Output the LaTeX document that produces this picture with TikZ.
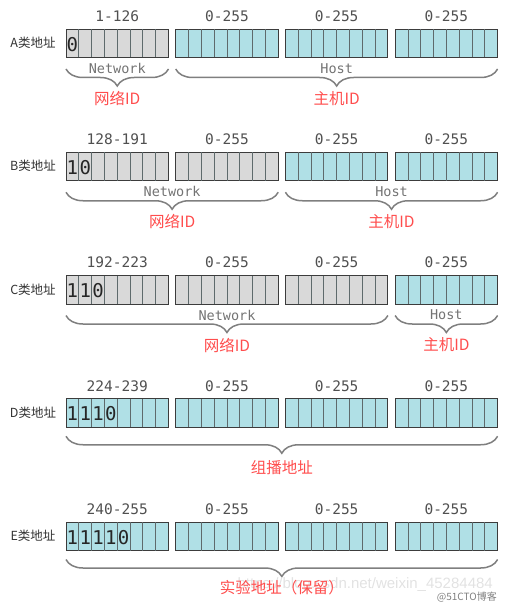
\documentclass[tikz,border=0pt]{standalone}
\usepackage{fontspec}
\newfontfamily\cjk{Noto Sans CJK SC}
\newfontfamily\monof{DejaVu Sans Mono}
\newfontfamily\wmfont{Liberation Sans}
\usetikzlibrary{decorations.pathreplacing,calc}
\definecolor{netgray}{HTML}{D9D9D9}
\definecolor{hostcyan}{HTML}{B0E0E6}
\definecolor{boxline}{HTML}{3C3C3C}
\definecolor{celline}{HTML}{5E6A6C}
\definecolor{bracegray}{HTML}{7F7F7F}
\definecolor{labred}{HTML}{FF4D4D}
\definecolor{txtgray}{HTML}{505050}
\definecolor{wmgray}{HTML}{E2E2E2}
\tikzset{
  bytebox/.style={draw=boxline, line width=0.9bp, minimum width=102.5bp, minimum height=28.5bp, inner sep=0pt, outer sep=0pt, anchor=north west},
  cellline/.style={draw=celline, line width=0.8bp},
  bitlab/.style={font=\monof\fontsize{19bp}{20bp}\selectfont, text=black!85, inner sep=0pt},
  rangelab/.style={font=\monof\fontsize{14.5bp}{16bp}\selectfont, text=txtgray, inner sep=0pt},
  rowlab/.style={font=\cjk\fontsize{12.5bp}{14bp}\selectfont, text=black!80, inner sep=0pt},
  partlab/.style={font=\monof\fontsize{13.5bp}{15bp}\selectfont, text=black!55, inner sep=0pt},
  redlab/.style={font=\cjk\fontsize{15.5bp}{17bp}\selectfont, text=labred, inner sep=0pt},
  bracelook/.style={draw=bracegray, line width=1.5bp, decorate, decoration={brace, mirror, amplitude=17bp}},
  wm/.style={font=\wmfont\fontsize{15bp}{17bp}\selectfont, text=wmgray, inner sep=0pt},
  wm2/.style={font=\cjk\fontsize{10bp}{12bp}\selectfont, text=black!50, inner sep=0pt}
}
\begin{document}
\begin{tikzpicture}[x=1bp,y=-1bp]
\useasboundingbox (0,0) rectangle (505,606);
\foreach \r/\L/\rng/\ng/\bits in {0/A/1-126/1/{0}, 1/B/128-191/2/{1,0}, 2/C/192-223/3/{1,1,0}, 3/D/224-239/0/{1,1,1,0}, 4/E/240-255/0/{1,1,1,1,0}}{
  \pgfmathsetmacro\top{29+123.25*\r}
  \node[rowlab] (\L lab) at (33,\top+14) {\L 类地址};
  \foreach \i in {1,2,3,4}{
    \pgfmathsetmacro\xx{66+109.7*(\i-1)}
    \pgfmathtruncatemacro\isnet{\i<=\ng ? 1 : 0}
    \ifnum\isnet=1
      \node[bytebox, fill=netgray] (\L\i) at (\xx,\top) {};
    \else
      \node[bytebox, fill=hostcyan] (\L\i) at (\xx,\top) {};
    \fi
    \foreach \k in {1,...,7}{
      \draw[cellline] ($(\L\i.north west)+(\k*12.8125,0)$) -- ($(\L\i.south west)+(\k*12.8125,0)$);
    }
    \ifnum\i=1
      \node[rangelab] (\L\i rng) at ($(\L\i.north)+(0,-13)$) {\rng};
    \else
      \node[rangelab] (\L\i rng) at ($(\L\i.north)+(0,-13)$) {0-255};
    \fi
  }
  \foreach \b [count=\k] in \bits{
    \node[bitlab] (\L bit\k) at ($(\L1.west)+(\k*12.8125-6.4,1)$) {\b};
  }
}
% braces row A
\coordinate (Ana) at ($(A1.south west)+(0,11.5)$);
\coordinate (Anb) at ($(A1.south east)+(0,11.5)$);
\coordinate (Aha) at ($(A2.south west)+(0,11.5)$);
\coordinate (Ahb) at ($(A4.south east)+(0,11.5)$);
% row B
\coordinate (Bna) at ($(B1.south west)+(0,11.5)$);
\coordinate (Bnb) at ($(B2.south east)+(0,11.5)$);
\coordinate (Bha) at ($(B3.south west)+(0,11.5)$);
\coordinate (Bhb) at ($(B4.south east)+(0,11.5)$);
% row C
\coordinate (Cna) at ($(C1.south west)+(0,11.5)$);
\coordinate (Cnb) at ($(C3.south east)+(0,11.5)$);
\coordinate (Cha) at ($(C4.south west)+(0,11.5)$);
\coordinate (Chb) at ($(C4.south east)+(0,11.5)$);
% rows D, E
\coordinate (Da) at ($(D1.south west)+(0,9)$);
\coordinate (Db) at ($(D4.south east)+(0,9)$);
\coordinate (Ea) at ($(E1.south west)+(0,9)$);
\coordinate (Eb) at ($(E4.south east)+(0,9)$);

\foreach \p in {A,B,C}{
  \draw[bracelook] (\p na) -- (\p nb);
  \draw[bracelook] (\p ha) -- (\p hb);
  \node[partlab] (\p netw) at ($(\p na)!0.5!(\p nb)+(0,-0.5)$) {Network};
  \node[partlab] (\p host) at ($(\p ha)!0.5!(\p hb)+(0,-0.5)$) {Host};
  \node[redlab] (\p netid) at ($(\p na)!0.5!(\p nb)+(0,29.5)$) {网络ID};
  \node[redlab] (\p hostid) at ($(\p ha)!0.5!(\p hb)+(0,29.5)$) {主机ID};
}
\draw[bracelook] (Da) -- (Db);
\draw[bracelook] (Ea) -- (Eb);
\node[redlab] (Dlab) at ($(Da)!0.5!(Db)+(0,31)$) {组播地址};
\node[wm, anchor=east] (wmark) at (493,585) {https://blog.csdn.net/weixin\_45284484};
\node[redlab] (Elab) at ($(Ea)!0.5!(Eb)+(0,28)$) {实验地址（保留）};
\node[wm2, anchor=east] (wmark2) at (497,597) {@51CTO博客};
\end{tikzpicture}
\end{document}
